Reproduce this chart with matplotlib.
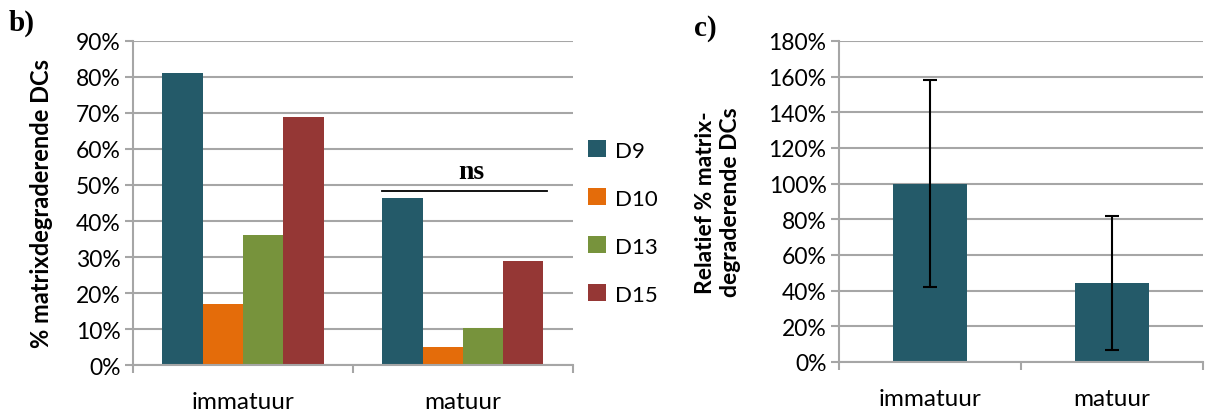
import numpy as np
import matplotlib.pyplot as plt
from matplotlib.ticker import PercentFormatter

plt.rcParams['font.family'] = ['Lato', 'DejaVu Sans']

# data, panel b
categories = ['immatuur', 'matuur']
series = ['D9', 'D10', 'D13', 'D15']
values = {
    'D9': [81, 46.5],
    'D10': [17, 5],
    'D13': [36, 10.2],
    'D15': [69, 29],
}
colors = {'D9': '#245A69', 'D10': '#E46C0A', 'D13': '#77933C', 'D15': '#953735'}

# data, panel c
rel_values = [100, 44.5]
rel_err = [58, 37.5]

grid_col = '#A6A6A6'


def style_axis(ax, ymax, step):
    ax.set_ylim(0, ymax)
    ax.set_xlim(-0.5, 1.5)
    ax.set_yticks(np.arange(0, ymax + 1, step))
    ax.yaxis.set_major_formatter(PercentFormatter(decimals=0))
    ax.yaxis.grid(True, color=grid_col, lw=1.5)
    ax.set_axisbelow(True)
    for s in ['top', 'right']:
        ax.spines[s].set_visible(False)
    for s in ['left', 'bottom']:
        ax.spines[s].set_color(grid_col)
        ax.spines[s].set_linewidth(1.5)
    ax.tick_params(axis='y', length=6, width=1.5, color=grid_col, labelsize=16.5, pad=3)
    ax.set_xticks([0, 1])
    ax.set_xticklabels(categories)
    ax.tick_params(axis='x', length=0, labelsize=17.5, pad=19)
    ax.set_xticks([-0.5, 0.5, 1.5], minor=True)
    ax.tick_params(axis='x', which='minor', length=6, width=1.5, color=grid_col)


fig = plt.figure(figsize=(12.17, 4.14), dpi=100)

# panel b
ax1 = fig.add_axes([0.1093, 0.1159, 0.3615, 0.7827])
x = np.arange(len(categories))
w = 0.183
for i, s in enumerate(series):
    ax1.bar(x + (i - 1.5) * w, values[s], width=w, color=colors[s], label=s)
style_axis(ax1, 90, 10)
ax1.set_ylabel('% matrixdegraderende DCs', fontsize=17, fontweight='bold', labelpad=16)

# significance bar over matuur
ax1.plot([1 - 0.37, 1 + 0.38], [48.3, 48.3], color='black', lw=1.3)
ax1.text(1.04, 50.3, 'ns', ha='center', va='bottom', fontsize=20,
         fontweight='bold', family='Liberation Serif')

ax1.legend(loc='center left', bbox_to_anchor=(1.015, 0.44), frameon=False,
           fontsize=16, handlelength=0.8, handleheight=0.8,
           labelspacing=1.25, handletextpad=0.4, borderaxespad=0)

# panel c
ax2 = fig.add_axes([0.6894, 0.1232, 0.2991, 0.7754])
ax2.bar(x, rel_values, width=0.41, color=colors['D9'])
ax2.errorbar(x, rel_values, yerr=rel_err, fmt='none', ecolor='black',
             elinewidth=1.5, capsize=5, capthick=1.5)
style_axis(ax2, 180, 20)
ax2.set_ylabel('Relatief % matrix-\ndegraderende DCs', fontsize=16.5,
               fontweight='bold', labelpad=20, linespacing=1.2)

fig.text(0.007, 0.925, 'b)', fontsize=21, fontweight='bold', family='Liberation Serif')
fig.text(0.570, 0.915, 'c)', fontsize=21, fontweight='bold', family='Liberation Serif')

fig.savefig('out.png', dpi=100)
